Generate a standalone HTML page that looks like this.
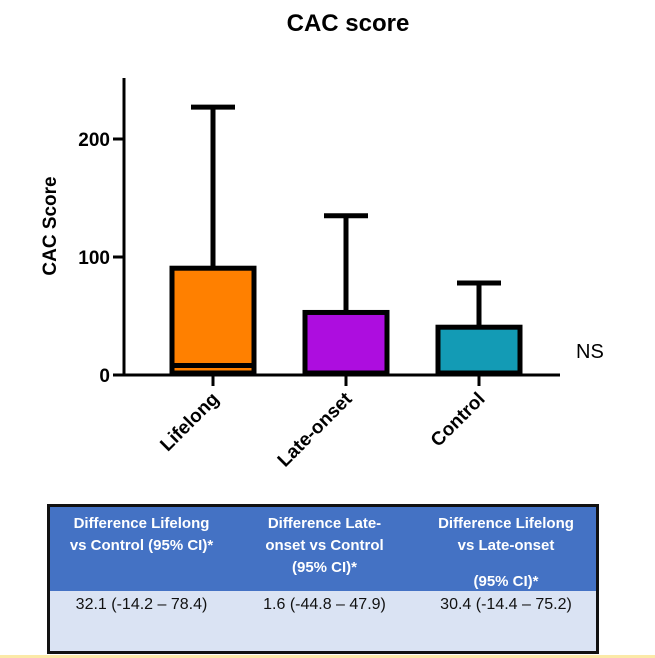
<!DOCTYPE html>
<html><head><meta charset="utf-8"><style>
body{margin:0;width:655px;height:658px;background:#fff;overflow:hidden;font-family:"Liberation Sans",Arial,sans-serif;position:relative}
svg{position:absolute;left:0;top:0}
#tbl{position:absolute;left:47px;top:504px;width:546px;height:144px;border:3px solid #111;background:#dae3f3}
#hdr{position:absolute;left:0;top:0;width:100%;height:84px;background:#4472c4}
.h{position:absolute;top:6px;color:#fff;font-weight:bold;font-size:15px;line-height:22px;text-align:center}
.d{position:absolute;top:89px;font-size:16px;color:#111;text-align:center}
</style></head><body>
<svg width="655" height="658">
<text x="348" y="31" text-anchor="middle" font-size="24" font-weight="bold">CAC score</text>
<text transform="translate(56,226) rotate(-90)" text-anchor="middle" font-size="19" font-weight="bold">CAC Score</text>
<text x="576" y="358" font-size="20">NS</text>
<g id="g"></g>
</svg>
<div id="tbl">
<div id="hdr">
<div class="h" style="left:0;width:183px">Difference Lifelong<br>vs Control (95% CI)*</div>
<div class="h" style="left:183px;width:183px">Difference Late-<br>onset vs Control<br>(95% CI)*</div>
<div class="h" style="left:366px;width:180px">Difference Lifelong<br>vs Late-onset<br><br><span style="position:relative;top:-8px">(95% CI)*</span></div>
</div>
<div class="d" style="left:0;width:183px">32.1 (-14.2 – 78.4)</div>
<div class="d" style="left:183px;width:183px">1.6 (-44.8 – 47.9)</div>
<div class="d" style="left:366px;width:180px">30.4 (-14.4 – 75.2)</div>
</div>
<div style="position:absolute;left:0;top:655px;width:655px;height:3px;background:#fbe9a8"></div>
<script>
const categories=["Lifelong","Late-onset","Control"];
const boxTop=[90.5,53,40.5];
const medians=[8,null,null];
const whiskerTop=[227,135,78];
const colors=["#ff8000","#ad0ddf","#139bb5"];
const yTicks=[0,100,200];
const NS="http://www.w3.org/2000/svg";
const g=document.getElementById('g');
const y0=375,pxPer=1.18;
const y=v=>y0-v*pxPer;
const x=i=>213+i*133;
function mk(t,a){const e=document.createElementNS(NS,t);for(const k in a)e.setAttribute(k,a[k]);g.appendChild(e);return e;}
let e=mk('line',{x1:124,y1:78,x2:124,y2:y0+1.5,stroke:'#000','stroke-width':3});


e=mk('line',{x1:122.5,y1:y0,x2:560,y2:y0,stroke:'#000','stroke-width':3});


yTicks.forEach(t=>{
 e=mk('line',{x1:113,y1:y(t),x2:124,y2:y(t),stroke:'#000','stroke-width':3});
 
 
 e=mk('text',{x:110,y:y(t)+7,'text-anchor':'end','font-size':19,'font-weight':'bold'});
 e.textContent=t;
 
 
});
categories.forEach((c,i)=>{
 const cx=x(i);
 e=mk('line',{x1:cx,y1:y(boxTop[i]),x2:cx,y2:y(whiskerTop[i]),stroke:'#000','stroke-width':5});
 
 
 e=mk('line',{x1:cx-22,y1:y(whiskerTop[i]),x2:cx+22,y2:y(whiskerTop[i]),stroke:'#000','stroke-width':5});
 
 
 e=mk('rect',{x:cx-41,y:y(boxTop[i]),width:82,height:y0-y(boxTop[i])-2,fill:colors[i],stroke:'#000','stroke-width':5});
 
 
 if(medians[i]!==null){
  e=mk('line',{x1:cx-43,y1:y(medians[i]),x2:cx+43,y2:y(medians[i]),stroke:'#000','stroke-width':5});
  
  
 }
 e=mk('line',{x1:cx,y1:y0,x2:cx,y2:y0+11,stroke:'#000','stroke-width':3});
 
 
 e=mk('text',{transform:`translate(${cx+7},${y0+25}) rotate(-45)`,'text-anchor':'end','font-size':19,'font-weight':'bold'});
 e.textContent=c;
 
 
});
</script>
</body></html>
